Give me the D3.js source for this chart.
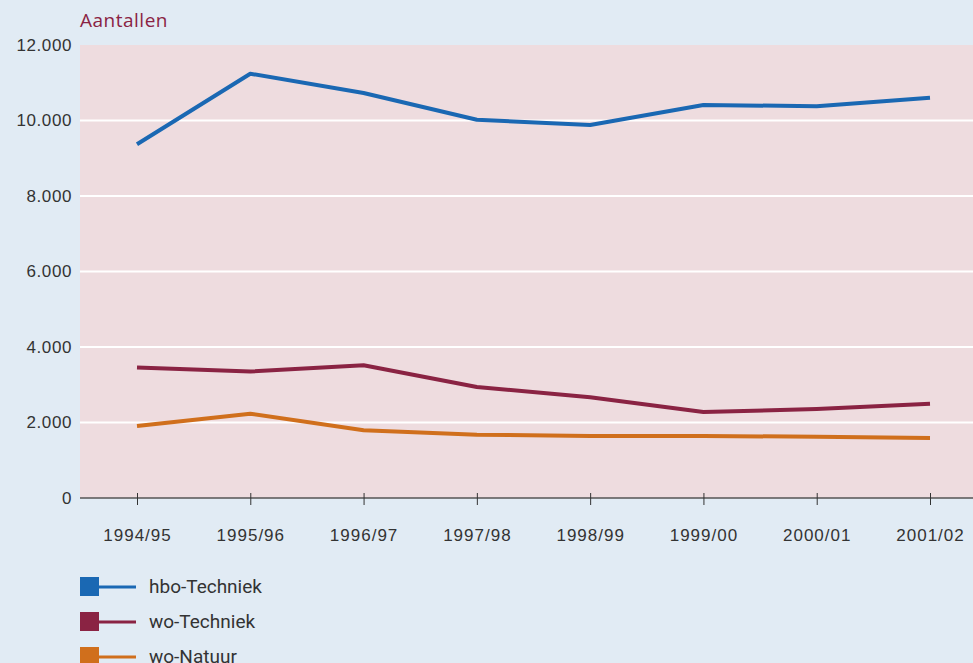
<!DOCTYPE html>
<html>
<head>
<meta charset="utf-8">
<script src="https://cdn.jsdelivr.net/npm/d3@7"></script>
<style>
  body { margin: 0; background: #e1ebf4; }
  svg { display: block; font-family: 'Open Sans', 'DejaVu Sans', sans-serif; }
</style>
</head>
<body>
<div id="main"></div>
<script>
// data
const years = ['1994/95', '1995/96', '1996/97', '1997/98', '1998/99', '1999/00', '2000/01', '2001/02'];
const hboTechniek = [9370, 11240, 10730, 10020, 9880, 10410, 10380, 10600];
const woTechniek = [3460, 3350, 3515, 2940, 2667, 2278, 2358, 2498];
const woNatuur = [1907, 2233, 1793, 1677, 1642, 1642, 1624, 1589];
const yTicks = [0, 2000, 4000, 6000, 8000, 10000, 12000];
const seriesNames = ['hbo-Techniek', 'wo-Techniek', 'wo-Natuur'];
const seriesColors = ['#1a68b3', '#8a2343', '#d06f1c'];

function main() {
  const width = 973;
  const height = 663;
  const left = 80;
  const top = 45;
  const bottom = 498;

  const series = [hboTechniek, woTechniek, woNatuur];

  const svg = d3.select('#main')
    .append('svg')
    .attr('width', width)
    .attr('height', height);

  // background
  svg.append('rect')
    .attr('width', width)
    .attr('height', height)
    .attr('fill', '#e1ebf4');

  const xScale = d3.scalePoint()
    .domain(years)
    .range([137, 930]);

  const yScale = d3.scaleLinear()
    .domain([0, 12000])
    .range([bottom, top]);

  // plot area
  svg.append('rect')
    .attr('x', left)
    .attr('y', top)
    .attr('width', width - left)
    .attr('height', bottom - top)
    .attr('fill', '#eedcdf');

  // white gridlines
  svg.append('g')
    .selectAll('line')
    .data(yTicks.filter(d => d > 0 && d < 12000))
    .enter()
    .append('line')
    .attr('x1', left)
    .attr('x2', width)
    .attr('y1', d => yScale(d))
    .attr('y2', d => yScale(d))
    .attr('stroke', '#ffffff')
    .attr('stroke-width', 2);

  // y axis labels
  const yAxis = d3.axisLeft(yScale)
    .tickValues(yTicks)
    .tickFormat(d => d3.format(',')(d).replace(/,/g, '.'))
    .tickSize(0)
    .tickPadding(8);

  svg.append('g')
    .attr('transform', `translate(${left}, 0)`)
    .call(yAxis)
    .call(g => g.select('.domain').remove())
    .call(g => g.selectAll('text')
      .attr('fill', '#333')
      .style('font-size', '17px')
      .style('letter-spacing', '0.6px'));

  // x axis
  const xAxis = d3.axisBottom(xScale)
    .tickSizeInner(7)
    .tickSizeOuter(0)
    .tickPadding(24);

  const gx = svg.append('g')
    .attr('transform', `translate(0, ${bottom})`)
    .call(xAxis);
  gx.select('.domain')
    .attr('d', `M${left},0H${width}`)
    .attr('stroke', '#555')
    .attr('stroke-width', 1.5);
  gx.selectAll('.tick line')
    .attr('y1', -5)
    .attr('stroke', '#333');
  gx.selectAll('text')
    .attr('fill', '#333')
    .style('font-size', '17px')
    .style('letter-spacing', '1px');

  // lines
  const line = d3.line()
    .x((d, i) => xScale(years[i]))
    .y(d => yScale(d));

  svg.append('g')
    .selectAll('path')
    .data(series)
    .enter()
    .append('path')
    .attr('d', d => line(d))
    .attr('fill', 'none')
    .attr('stroke', (d, i) => seriesColors[i])
    .attr('stroke-width', 4)
    .attr('stroke-linejoin', 'round');

  // title
  svg.append('text')
    .attr('x', left)
    .attr('y', 27)
    .attr('fill', '#8a2343')
    .style('font-size', '19px')
    .style('letter-spacing', '0.5px')
    .text('Aantallen');

  // legend
  const legend = svg.append('g')
    .selectAll('g')
    .data(seriesNames)
    .enter()
    .append('g')
    .attr('transform', (d, i) => `translate(80, ${587 + i * 35})`);

  legend.append('rect')
    .attr('x', 0)
    .attr('y', -10)
    .attr('width', 19)
    .attr('height', 19)
    .attr('fill', (d, i) => seriesColors[i]);

  legend.append('line')
    .attr('x1', 18)
    .attr('x2', 56)
    .attr('y1', 0)
    .attr('y2', 0)
    .attr('stroke', (d, i) => seriesColors[i])
    .attr('stroke-width', 3);

  legend.append('text')
    .attr('x', 69)
    .attr('y', 6)
    .attr('fill', '#333')
    .style('font-family', 'Roboto, sans-serif')
    .style('font-size', '19px')
    .text(d => d);
}

document.addEventListener('DOMContentLoaded', main);
</script>
</body>
</html>
